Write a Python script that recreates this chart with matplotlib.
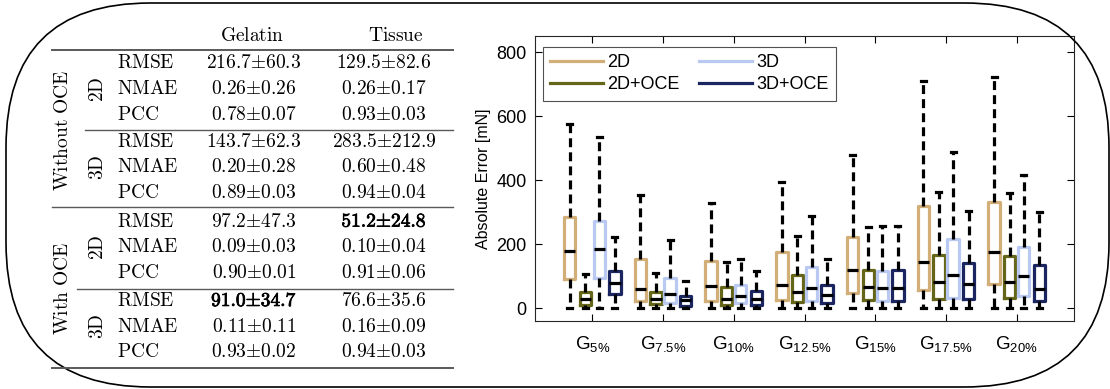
import matplotlib
matplotlib.use("Agg")
import matplotlib.pyplot as plt
import matplotlib.patheffects as pe
from matplotlib.lines import Line2D
from matplotlib.patches import FancyBboxPatch

plt.rcParams["font.family"] = ["Liberation Sans", "DejaVu Sans"]
plt.rcParams["mathtext.fontset"] = "custom"
plt.rcParams["mathtext.rm"] = "Liberation Sans"
plt.rcParams["mathtext.it"] = "Liberation Sans:italic"
plt.rcParams["mathtext.bf"] = "Liberation Sans:bold"

# ---- table data ----
col_headers = ["Gelatin", "Tissue"]
metrics = ["RMSE", "NMAE", "PCC"]
dims = ["2D", "3D"]
oce_groups = ["Without OCE", "With OCE"]
gelatin_vals = [
    r"216.7{\pm}60.3", r"0.26{\pm}0.26", r"0.78{\pm}0.07",
    r"143.7{\pm}62.3", r"0.20{\pm}0.28", r"0.89{\pm}0.03",
    r"97.2{\pm}47.3", r"0.09{\pm}0.03", r"0.90{\pm}0.01",
    r"91.0{\pm}34.7", r"0.11{\pm}0.11", r"0.93{\pm}0.02",
]
tissue_vals = [
    r"129.5{\pm}82.6", r"0.26{\pm}0.17", r"0.93{\pm}0.03",
    r"283.5{\pm}212.9", r"0.60{\pm}0.48", r"0.94{\pm}0.04",
    r"51.2{\pm}24.8", r"0.10{\pm}0.04", r"0.91{\pm}0.06",
    r"76.6{\pm}35.6", r"0.16{\pm}0.09", r"0.94{\pm}0.03",
]
gelatin_bold = [False] * 9 + [True, False, False]
tissue_bold = [False] * 6 + [True] + [False] * 5

# ---- boxplot data (absolute error, mN) ----
group_labels = [r"G$_{\mathregular{5\%}}$", r"G$_{\mathregular{7.5\%}}$",
                r"G$_{\mathregular{10\%}}$", r"G$_{\mathregular{12.5\%}}$",
                r"G$_{\mathregular{15\%}}$", r"G$_{\mathregular{17.5\%}}$",
                r"G$_{\mathregular{20\%}}$"]
series_names = ["2D", "2D+OCE", "3D", "3D+OCE"]
series_colors = ["#D2AF78", "#66661A", "#B9C9F2", "#1B2660"]

hi_2d = [575, 352, 330, 394, 479, 708, 722]
q3_2d = [286, 154, 148, 175, 222, 318, 333]
med_2d = [180, 60, 68, 73, 118, 143, 177]
q1_2d = [91, 21, 24, 26, 49, 57, 75]
lo_2d = [0, 0, 0, 0, 0, 0, 0]

hi_2doce = [107, 109, 144, 226, 253, 364, 360]
q3_2doce = [50, 50, 66, 104, 118, 167, 164]
med_2doce = [29, 30, 30, 52, 66, 83, 81]
q1_2doce = [10, 12, 10, 18, 26, 30, 33]
lo_2doce = [0, 0, 0, 0, 0, 0, 0]

hi_3d = [534, 213, 153, 288, 257, 487, 417]
q3_3d = [271, 94, 71, 128, 117, 217, 191]
med_3d = [184, 45, 37, 62, 63, 104, 99]
q1_3d = [93, 16, 16, 24, 23, 33, 39]
lo_3d = [0, 0, 0, 0, 0, 0, 0]

hi_3doce = [221, 85, 117, 153, 257, 302, 300]
q3_3doce = [115, 38, 55, 73, 118, 141, 135]
med_3doce = [78, 26, 28, 42, 63, 76, 59]
q1_3doce = [44, 7, 10, 16, 21, 29, 21]
lo_3doce = [0, 0, 0, 0, 0, 0, 0]

series_stats = [
    (lo_2d, q1_2d, med_2d, q3_2d, hi_2d),
    (lo_2doce, q1_2doce, med_2doce, q3_2doce, hi_2doce),
    (lo_3d, q1_3d, med_3d, q3_3d, hi_3d),
    (lo_3doce, q1_3doce, med_3doce, q3_3doce, hi_3doce),
]

W, H = 1110, 389
fig = plt.figure(figsize=(W / 100, H / 100), dpi=100)


def fx(x):
    return x / W


def fy(y):
    return 1 - y / H


# rounded outer frame
frame = FancyBboxPatch((fx(6), fy(387)), fx(1103), (386 - 2) / H,
                       boxstyle="round,pad=0,rounding_size=0.13",
                       transform=fig.transFigure, fill=False,
                       edgecolor="black", linewidth=1.2,
                       mutation_aspect=W / H)
fig.patches.append(frame)

# ---- table ----
tbl_fs = 14
rule_col = "0.35"


def hrule(y, x0, lw):
    fig.add_artist(Line2D([fx(x0), fx(453)], [fy(y), fy(y)],
                          transform=fig.transFigure, color=rule_col, lw=lw))


hrule(50, 52, 1.4)
hrule(129.5, 85, 1.0)
hrule(206.7, 52, 1.0)
hrule(288.5, 77, 1.0)
hrule(367.5, 52, 1.4)


def cell(x, y, s, bold=False, **kw):
    t = fig.text(fx(x), fy(y), r"$\mathrm{" + s + "}$", math_fontfamily="cm",
                 fontsize=tbl_fs, va="center", **kw)
    if bold:
        t.set_path_effects([pe.withStroke(linewidth=0.55, foreground="black")])
    return t


cell(252, 36, col_headers[0], ha="center")
cell(396, 36, col_headers[1], ha="center")

block_y = [63.3, 141.7, 221.7, 301]
row_step = 25.7
for b, y0 in enumerate(block_y):
    cell(98, y0 + row_step, dims[b % 2], ha="center", rotation=90)
    for r, m in enumerate(metrics):
        i = b * 3 + r
        y = y0 + r * row_step
        cell(117, y, m, ha="left")
        cell(254, y, gelatin_vals[i], bold=gelatin_bold[i], ha="center")
        cell(384, y, tissue_vals[i], bold=tissue_bold[i], ha="center")

cell(63, 130, r"Without\ OCE", ha="center", rotation=90)
cell(63, 288, r"With\ OCE", ha="center", rotation=90)

# ---- box plot ----
ax = fig.add_axes([fx(535), fy(321), fx(1074) - fx(535), (321 - 36) / H])
offsets = [-0.32, -0.1, 0.1, 0.32]
box_lw = 2.3
handles = []
for s, (name, color) in enumerate(zip(series_names, series_colors)):
    lo, q1, med, q3, hi = series_stats[s]
    stats = []
    for k in range(len(group_labels)):
        stats.append({"whislo": lo[k], "q1": q1[k], "med": med[k],
                      "q3": q3[k], "whishi": hi[k], "fliers": []})
    pos = [k + 1 + offsets[s] for k in range(len(group_labels))]
    ax.bxp(stats, positions=pos, widths=0.16, capwidths=0.07,
           showfliers=False, manage_ticks=False,
           boxprops=dict(color=color, lw=box_lw),
           medianprops=dict(color="black", lw=box_lw),
           whiskerprops=dict(color="black", lw=box_lw, linestyle=(0, (2.8, 1.6))),
           capprops=dict(color="black", lw=box_lw))
    handles.append(Line2D([], [], color=color, lw=2.3, label=name))

ax.set_xlim(0.19, 7.81)
ax.set_ylim(-40, 850)
ax.set_xticks(range(1, len(group_labels) + 1))
ax.set_xticklabels(group_labels)
ax.set_yticks([0, 200, 400, 600, 800])
ax.tick_params(direction="in", top=True, right=True, length=5,
               labelsize=13, width=0.8, pad=6)
ax.tick_params(axis="x", pad=9, labelsize=13.5)
ax.set_ylabel("Absolute Error [mN]", fontsize=11.5)
for sp in ax.spines.values():
    sp.set_linewidth(0.8)
    sp.set_color("0.15")

leg = ax.legend(handles=handles, ncol=2, loc="upper left", fontsize=13,
                handlelength=2.9, columnspacing=1.1, frameon=True,
                fancybox=False, edgecolor="0.15", borderpad=0.4,
                labelspacing=0.3, handletextpad=0.25,
                bbox_to_anchor=(0.015, 0.962), borderaxespad=0)
leg.get_frame().set_linewidth(0.8)

fig.savefig("out.png", dpi=100)
